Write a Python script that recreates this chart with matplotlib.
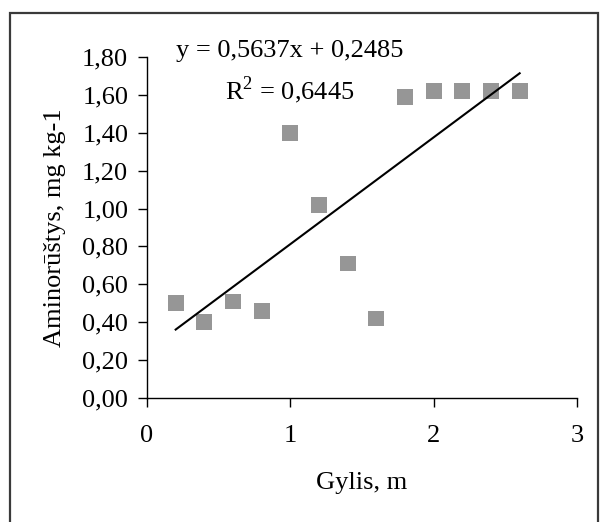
import matplotlib
matplotlib.use("Agg")
import matplotlib.pyplot as plt
from matplotlib.patches import Rectangle
import numpy as np

depth = [0.2, 0.4, 0.6, 0.8, 1.0, 1.2, 1.4, 1.6, 1.8, 2.0, 2.2, 2.4, 2.6]
amino = [0.50, 0.40, 0.51, 0.46, 1.40, 1.02, 0.71, 0.42, 1.59, 1.62, 1.62, 1.62, 1.62]
slope = 0.5637
intercept = 0.2485
eq_text = "y = 0,5637x + 0,2485"
r2_text = "R$^{2}$ = 0,6445"
x_ticks = [0, 1, 2, 3]
y_ticks = [0.0, 0.2, 0.4, 0.6, 0.8, 1.0, 1.2, 1.4, 1.6, 1.8]
y_tick_labels = ["0,00", "0,20", "0,40", "0,60", "0,80", "1,00", "1,20", "1,40", "1,60", "1,80"]

plt.rcParams['font.family'] = ['Liberation Serif', 'DejaVu Serif']
plt.rcParams['mathtext.fontset'] = 'custom'
plt.rcParams['mathtext.rm'] = 'Liberation Serif'

FS = 19
W, H = 604, 522
fig = plt.figure(figsize=(W / 100, H / 100), dpi=100)
fig.patch.set_facecolor('white')

# outer border
fig.patches.append(Rectangle((10 / W, -0.1), 588 / W, 1 - 13 / H + 0.1,
                             transform=fig.transFigure, fill=False,
                             edgecolor='#3a3a3a', linewidth=1.6, clip_on=False))

ax = fig.add_axes([147 / W, 1 - 398 / H, 430 / W, 341 / H])
ax.set_xlim(0, 3)
ax.set_ylim(0, 1.8)
for s in ['top', 'right']:
    ax.spines[s].set_visible(False)
for s in ['left', 'bottom']:
    ax.spines[s].set_linewidth(1.0)
    ax.spines[s].set_color('black')

ax.scatter(depth, amino, marker='s', s=11.3 ** 2, color='#969696', edgecolors='none',
           zorder=3, clip_on=False)
xl = np.array([min(depth), max(depth)])
ax.plot(xl, slope * xl + intercept, color='black', linewidth=1.5, zorder=4)

ax.set_xticks(x_ticks)
ax.set_xticklabels([str(t) for t in x_ticks])
ax.set_yticks(y_ticks)
ax.set_yticklabels(y_tick_labels)
ax.tick_params(axis='x', direction='out', length=6.5, width=1, labelsize=FS, pad=13)
ax.tick_params(axis='y', direction='out', length=6.5, width=1, labelsize=FS, pad=7)

ax.set_xlabel("Gylis, m", fontsize=FS)
ax.set_ylabel("Aminorūštys, mg kg-1", fontsize=FS)
ax.xaxis.label.set_va('center')
ax.yaxis.label.set_va('center')
ax.xaxis.set_label_coords(0.5, (398 - 483) / 341)
ax.yaxis.set_label_coords((55 - 147) / 430, 0.5)

ax.text((290 - 147) / 430, (398 - 51) / 341, eq_text, transform=ax.transAxes,
        ha='center', va='center', fontsize=FS)
ax.text((290 - 147) / 430, (398 - 90) / 341, r2_text, transform=ax.transAxes,
        ha='center', va='center', fontsize=FS)

fig.savefig("out.png", dpi=100)
